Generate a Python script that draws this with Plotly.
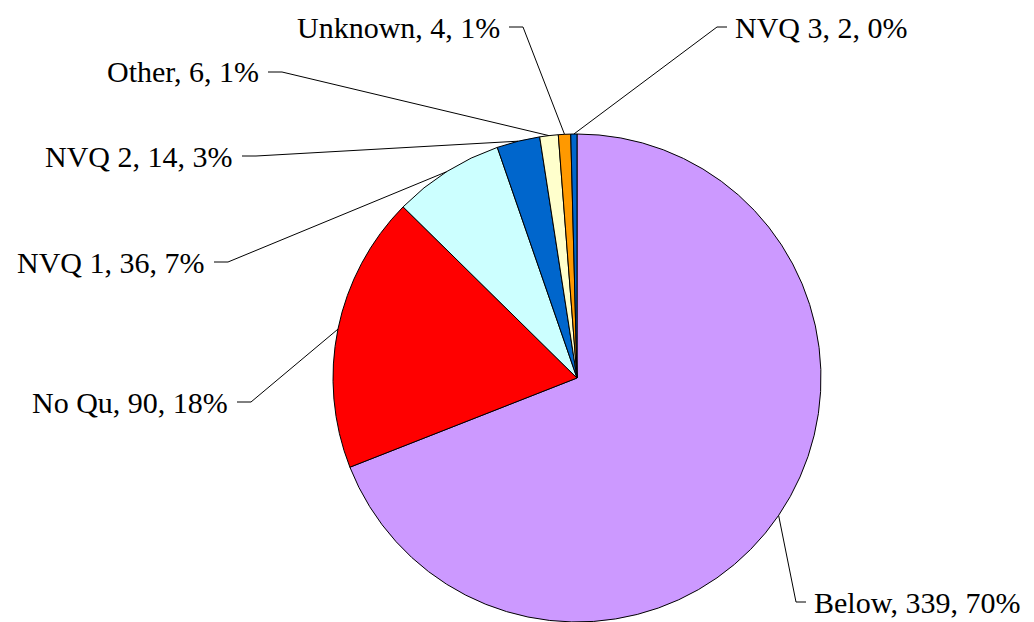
import math
import plotly.graph_objects as go

# data
labels = ["Below", "No Qu", "NVQ 1", "NVQ 2", "Other", "Unknown", "NVQ 3"]
values = [339, 90, 36, 14, 6, 4, 2]
pct_text = ["70%", "18%", "7%", "3%", "1%", "1%", "0%"]
colors = ["#CC99FF", "#FF0000", "#CCFFFF", "#0066CC", "#FFFFCC", "#FF9900", "#0066CC"]

W, H = 1034, 622
OFF = 8  # page body margin
# pie placement in pixels (window coords)
cx, cy, R = 577, 378, 244

# label anchors (pixels): text edge x, y, side
label_pos = {
    "Below": (813, 602, "left"),
    "No Qu": (229, 402, "right"),
    "NVQ 1": (206, 262, "right"),
    "NVQ 2": (234, 156, "right"),
    "Other": (260, 72, "right"),
    "Unknown": (501, 27, "right"),
    "NVQ 3": (734, 27, "left"),
}

def px(x):
    return (x - OFF) / W

def py(y):
    return 1 - (y - OFF) / H

fig = go.Figure(go.Pie(
    labels=labels, values=values, sort=False, direction="clockwise",
    rotation=0, textinfo="none",
    marker=dict(colors=colors, line=dict(color="black", width=1)),
    domain=dict(x=[px(cx - R), px(cx + R)], y=[py(cy + R), py(cy - R)]),
    showlegend=False,
))

total = sum(values)
cum = 0
annotations = []
shapes = []
for lab, v, p in zip(labels, values, pct_text):
    mid = (cum + v / 2) / total * 2 * math.pi
    cum += v
    ax = cx + R * math.sin(mid)
    ay = cy - R * math.cos(mid)
    tx, ty, side = label_pos[lab]
    annotations.append(dict(
        x=px(tx), y=py(ty), xref="paper", yref="paper",
        text=f"{lab}, {v}, {p}", showarrow=False,
        xanchor=side, yanchor="middle", borderpad=0,
        font=dict(family="Liberation Serif, Times New Roman, serif", size=30, color="black"),
    ))
    if side == "right":
        x1, x2 = tx + 8, tx + 22
    else:
        x1, x2 = tx - 7, tx - 17
    path = f"M {px(x1)},{py(ty)} L {px(x2)},{py(ty)} L {px(ax)},{py(ay)}"
    shapes.append(dict(type="path", path=path, xref="paper", yref="paper",
                       line=dict(color="black", width=1)))

fig.update_layout(
    width=W, height=H,
    margin=dict(l=0, r=0, t=0, b=0),
    paper_bgcolor="white", plot_bgcolor="white",
    annotations=annotations, shapes=shapes,
)

fig.write_html("out.html")
